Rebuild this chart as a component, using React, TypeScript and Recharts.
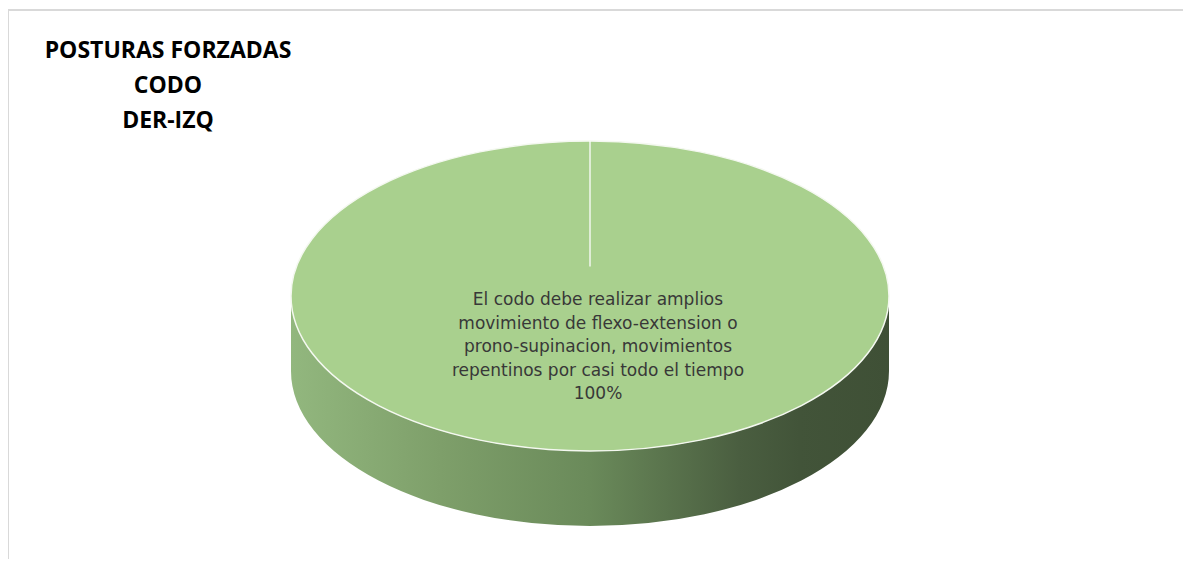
import React from 'react';
import { PieChart, Pie, Cell } from 'recharts';

const categories = [
  'El codo debe realizar amplios movimiento de flexo-extension o prono-supinacion, movimientos repentinos por casi todo el tiempo',
];
const values = [100];
const categoryLabelLines = [
  [
    'El codo debe realizar amplios',
    'movimiento de flexo-extension o',
    'prono-supinacion, movimientos',
    'repentinos por casi todo el tiempo',
  ],
];
const titleLines = ['POSTURAS FORZADAS', 'CODO', 'DER-IZQ'];
const colors = ['#a9d08e'];

const data = categories.map((name, i) => ({ name, value: values[i] }));

const TILT = 155 / 299;
const DEPTH = 75 / 299;

const render3D = (props: any) => {
  const { cx, cy, outerRadius, percent, index } = props;
  const startAngle = props.startAngle ?? 90;
  const rx = outerRadius;
  const ry = rx * TILT;
  const depth = rx * DEPTH;
  const a = (startAngle * Math.PI) / 180;
  const px = cx + rx * Math.cos(a);
  const py = cy - ry * Math.sin(a);
  const centerY = cy - ry * 0.19;
  const side = `M ${cx - rx} ${cy} A ${rx} ${ry} 0 0 0 ${cx + rx} ${cy} L ${cx + rx} ${cy + depth} A ${rx} ${ry} 0 0 1 ${cx - rx} ${cy + depth} Z`;
  const lines = [...(categoryLabelLines[index] || []), `${Math.round((percent || 0) * 100)}%`];
  return (
    <g>
      <defs>
        <linearGradient id="pieSide" x1="0" y1="0" x2="1" y2="0">
          <stop offset="0" stopColor="#92b77e" />
          <stop offset="0.25" stopColor="#7e9f6a" />
          <stop offset="0.5" stopColor="#6a8a5a" />
          <stop offset="0.75" stopColor="#4a5e40" />
          <stop offset="0.85" stopColor="#425439" />
          <stop offset="1" stopColor="#3f5036" />
        </linearGradient>
      </defs>
      <path d={side} fill="url(#pieSide)" stroke="none" />
      <ellipse cx={cx} cy={cy} rx={rx} ry={ry} fill={colors[index % colors.length]} stroke="#f4f8f0" strokeWidth={1.5} />
      <line x1={px} y1={py} x2={cx} y2={centerY} stroke="#ffffff" strokeWidth={1.5} opacity={0.85} />
      <text
        x={cx + 8}
        y={cy + 9}
        textAnchor="middle"
        fill="#383838"
        style={{ fontFamily: 'DejaVu Sans', fontSize: 17 }}
      >
        {lines.map((l, i) => (
          <tspan key={i} x={cx + 8} dy={i === 0 ? 0 : 23.5}>
            {l}
          </tspan>
        ))}
      </text>
    </g>
  );
};

export default function App() {
  return (
    <div style={{ position: 'relative', width: 1175, height: 551, background: '#fff' }}>
      <div
        style={{
          position: 'absolute',
          left: -1,
          top: 1,
          right: 0,
          bottom: 0,
          borderTop: '2px solid #d9d9d9',
          borderLeft: '2px solid #d9d9d9',
          pointerEvents: 'none',
        }}
      />
      <div
        style={{
          position: 'absolute',
          left: 10,
          top: 24,
          width: 300,
          textAlign: 'center',
          fontFamily: '"Open Sans", sans-serif',
          fontWeight: 700,
          fontSize: 23,
          lineHeight: '35px',
          color: '#000',
        }}
      >
        {titleLines.map((t, i) => (
          <div key={i}>{t}</div>
        ))}
      </div>
      <PieChart width={1175} height={551}>
        <Pie
          data={data}
          dataKey="value"
          nameKey="name"
          cx={577}
          cy={283}
          outerRadius={299}
          startAngle={90}
          endAngle={-270}
          isAnimationActive={false}
          label={render3D}
          labelLine={false}
          stroke="none"
        >
          {data.map((d, i) => (
            <Cell key={i} fill="none" stroke="none" />
          ))}
        </Pie>
      </PieChart>
    </div>
  );
}
